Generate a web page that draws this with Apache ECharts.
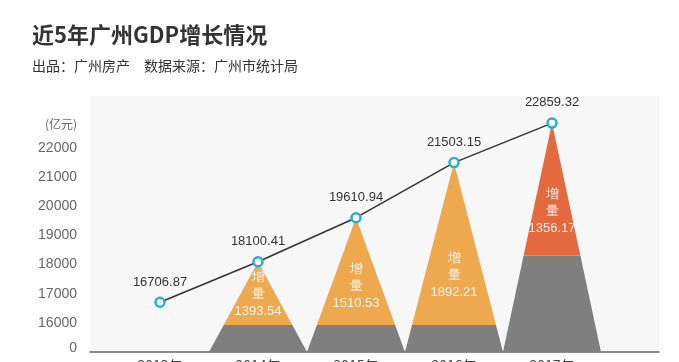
<!DOCTYPE html>
<html>
<head>
<meta charset="utf-8">
<script src="https://cdn.jsdelivr.net/npm/echarts@6/dist/echarts.min.js"></script>
<style>
html,body{margin:0;padding:0;background:#fff;}
#chart{width:679px;height:362px;}
</style>
</head>
<body>
<div id="chart"></div>
<script>
// ---- data ----
const years = ['2013年', '2014年', '2015年', '2016年', '2017年'];
const gdp = [16706.87, 18100.41, 19610.94, 21503.15, 22859.32];
const increments = [null, 1393.54, 1510.53, 1892.21, 1356.17];
const grayLevel = [null, 15930, 15930, 15930, 18310];
const yTicks = [15000, 16000, 17000, 18000, 19000, 20000, 21000, 22000];

const Y_MIN = 15000, Y_MAX = 23790;
const FONT = '"Liberation Sans", Arial, sans-serif';
const CJK = '"Noto Sans CJK SC", sans-serif';

const customData = [];
gdp.forEach((v, i) => {
  if (increments[i] != null) customData.push([i, v, grayLevel[i], increments[i]]);
});

const chart = echarts.init(document.getElementById('chart'), null, {renderer: 'canvas'});
chart.setOption({
  animation: false,
  backgroundColor: '#ffffff',
  title: [
    {text: '近5年广州GDP增长情况', left: 32, top: 24, padding: 0,
     textStyle: {fontFamily: CJK, fontSize: 22, fontWeight: 'bold', color: '#333'}},
    {text: '出品：广州房产　数据来源：广州市统计局', left: 32, top: 59, padding: 0,
     textStyle: {fontFamily: CJK, fontSize: 14, fontWeight: 'normal', color: '#333'}},
    {text: '(亿元)', right: 602, top: 118, padding: 0,
     textStyle: {fontFamily: CJK, fontSize: 12, fontWeight: 'normal', color: '#666'}}
  ],
  grid: [
    {left: 90, right: 20, top: 96, bottom: 10, show: true, backgroundColor: '#f7f7f7', borderWidth: 0,
     outerBoundsMode: 'none', containLabel: false},
    {left: 111, width: 490, top: 96, bottom: 10, show: false,
     outerBoundsMode: 'none', containLabel: false}
  ],
  xAxis: [
    {gridIndex: 0, type: 'value', min: 0, max: 1,
     axisLine: {show: true, lineStyle: {color: '#666', width: 1.5}},
     axisTick: {show: false}, axisLabel: {show: false}, splitLine: {show: false}},
    {gridIndex: 1, type: 'category', data: years, boundaryGap: true,
     axisLine: {show: false}, axisTick: {show: false}, splitLine: {show: false},
     axisLabel: {color: '#444', fontSize: 14, fontFamily: CJK, margin: 7}}
  ],
  yAxis: [
    {gridIndex: 0, type: 'value', min: Y_MIN, max: Y_MAX, interval: 1000,
     axisLine: {show: false}, axisTick: {show: false}, splitLine: {show: false},
     axisLabel: {
       color: '#666', fontSize: 14, fontFamily: FONT, margin: 13, showMaxLabel: false,
       formatter: function (v) {
         if (v === Y_MIN) return '{z|0}';
         if (yTicks.indexOf(v) < 0) return '';
         return String(v);
       },
       rich: {z: {color: '#666', fontSize: 14, fontFamily: FONT, padding: [0, 0, 8, 0]}}
     }},
    {gridIndex: 1, type: 'value', min: Y_MIN, max: Y_MAX, interval: 1000, show: false,
     splitLine: {show: false}}
  ],
  series: [
    {
      type: 'custom',
      xAxisIndex: 1, yAxisIndex: 1,
      z: 1,
      data: customData,
      renderItem: function (params, api) {
        const idx = api.value(0);
        const v = api.value(1);
        const g = api.value(2);
        const inc = api.value(3);
        const base = api.coord([idx, Y_MIN]);
        const apex = api.coord([idx, v]);
        const gp = api.coord([idx, g]);
        const bw = api.size([1, 0])[0];
        const half = bw / 2;
        const cx = apex[0];
        const t = (base[1] - gp[1]) / (base[1] - apex[1]);
        const hg = half * (1 - t);
        const isLast = idx === gdp.length - 1;
        const topColor = isLast ? '#e4693f' : '#eea84e';
        const textY = apex[1] + 0.8 * (gp[1] - apex[1]) + 8;
        return {
          type: 'group',
          children: [
            {type: 'polygon', shape: {points: [[cx, apex[1]], [cx - hg, gp[1]], [cx + hg, gp[1]]]},
             style: {fill: topColor}},
            {type: 'polygon', shape: {points: [[cx - half, base[1]], [cx + half, base[1]], [cx + hg, gp[1]], [cx - hg, gp[1]]]},
             style: {fill: '#7f7f7f'}},
            {type: 'text', x: cx, y: textY,
             style: {text: '增\n量\n' + inc.toFixed(2), fill: 'rgba(255,255,255,0.88)',
                     font: '13px ' + FONT, align: 'center', verticalAlign: 'bottom', lineHeight: 17}}
          ]
        };
      }
    },
    {
      type: 'line',
      xAxisIndex: 1, yAxisIndex: 1,
      z: 5,
      data: gdp,
      symbol: 'circle',
      symbolSize: 9,
      itemStyle: {color: '#ffffff', borderColor: '#22b2c7', borderWidth: 2.5},
      lineStyle: {color: '#333', width: 1.5},
      label: {show: true, position: 'top', distance: 8, color: '#333', fontSize: 13, fontFamily: FONT,
              formatter: function (p) { return p.value.toFixed(2); }}
    }
  ]
});
</script>
</body>
</html>
